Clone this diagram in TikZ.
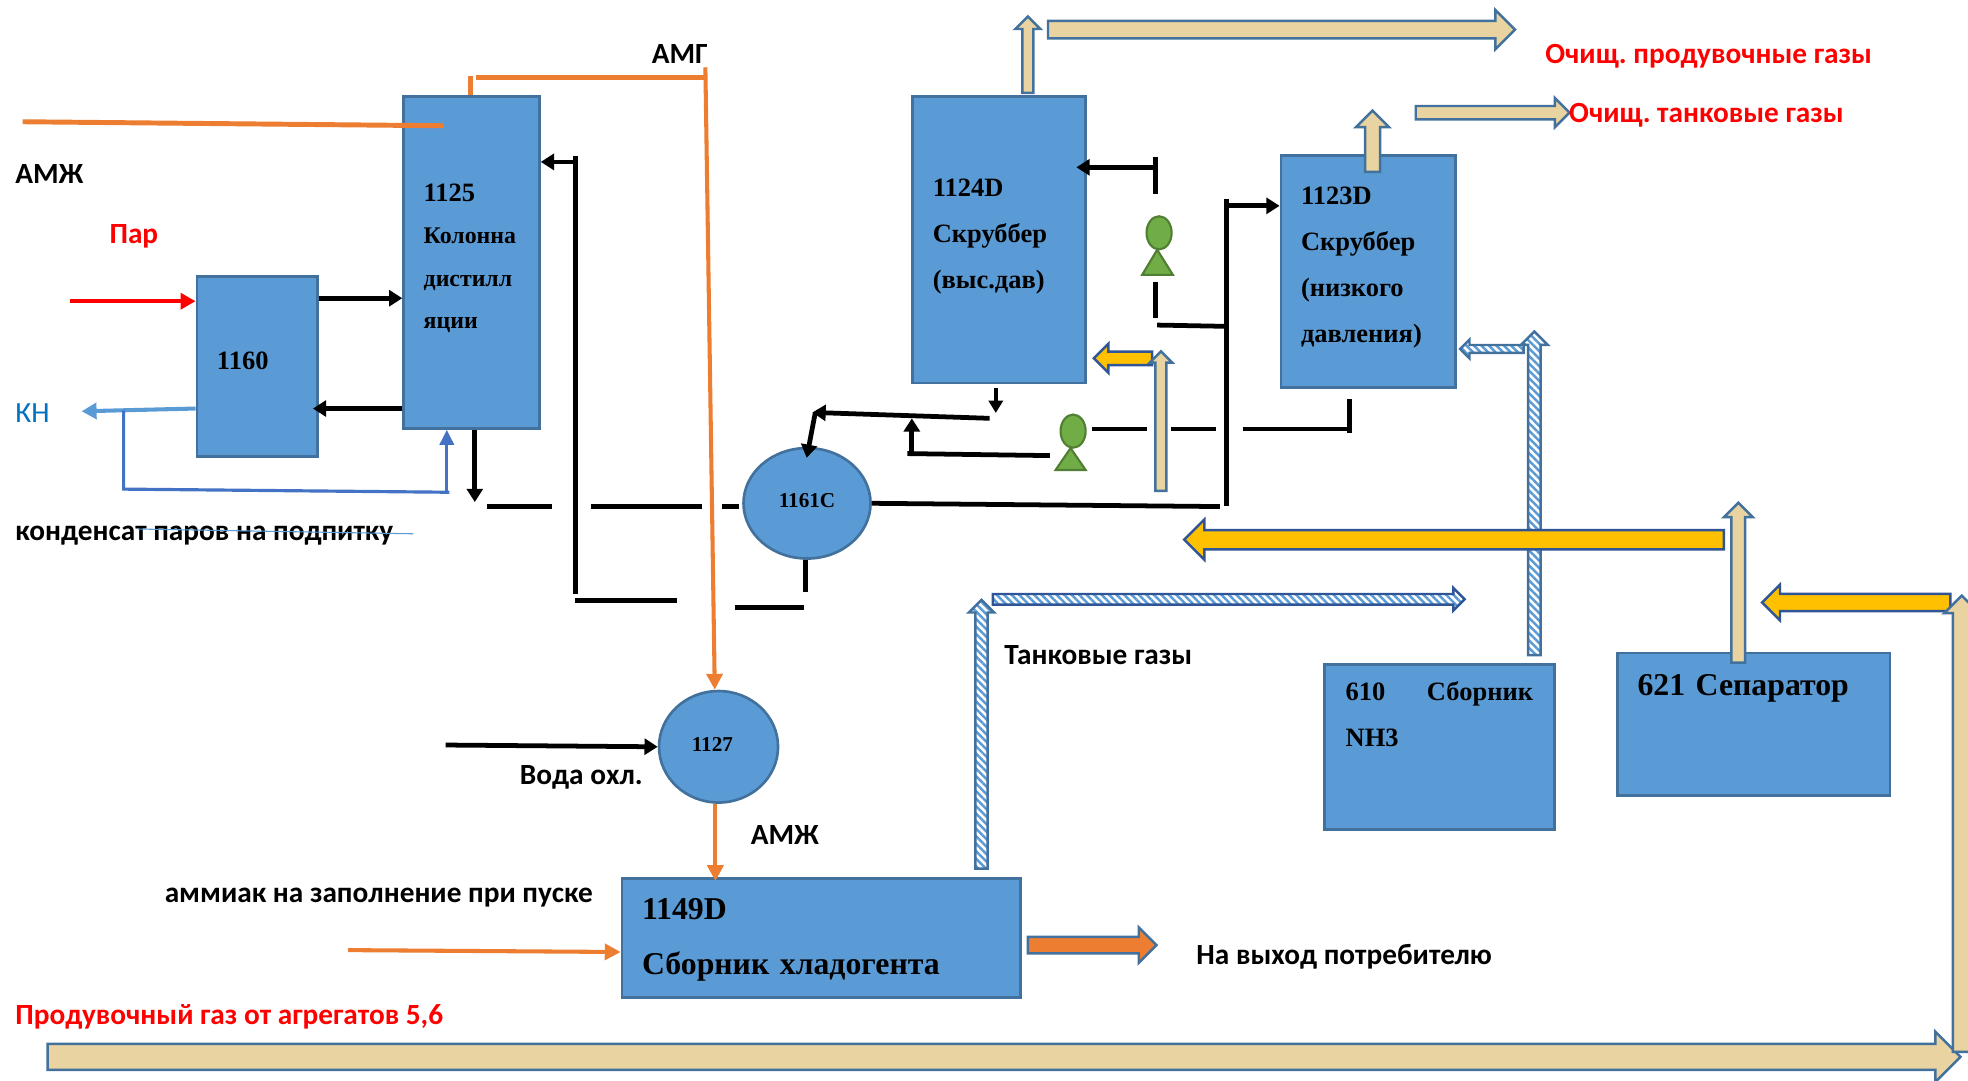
\documentclass[tikz,border=0pt]{standalone}
\usepackage{fontspec}
\setmainfont{Liberation Serif}
\newfontfamily\labelfont{Carlito}
\frenchspacing
\usetikzlibrary{shapes.geometric, shapes.arrows, arrows.meta, patterns.meta}
\definecolor{unitblue}{HTML}{5B9BD5}
\definecolor{unitline}{HTML}{41719C}
\definecolor{pumpgreen}{HTML}{70AD47}
\definecolor{pumpline}{HTML}{507E32}
\definecolor{gasbeige}{HTML}{E9D3A0}
\definecolor{ammonia}{HTML}{ED7D31}
\definecolor{liquidgold}{HTML}{FFC000}
\definecolor{navyline}{HTML}{2F5597}
\definecolor{returnblue}{HTML}{4472C4}
\definecolor{inkblue}{HTML}{0070C0}

\begin{document}
\begin{tikzpicture}[
  x=0.025cm, y=-0.025cm,
  unit/.style={draw=unitline, fill=unitblue, line width=1.5pt, inner ysep=0pt, align=left,
               font=\fontsize{15}{26}\selectfont\bfseries},
  vessel/.style={unit, ellipse, inner sep=0pt, align=center, font=\fontsize{12}{14}\selectfont\bfseries},
  pump/.style={draw=pumpline, fill=pumpgreen, line width=1.2pt},
  tag/.style={anchor=west, inner sep=0pt, font=\labelfont\fontsize{16.6}{19}\selectfont\bfseries},
  pipe/.style={line width=2.7pt, black},
  feed/.style={pipe, -{Triangle[length=7.5pt,width=9pt]}},
  amm/.style={line width=2.3pt, ammonia},
  ammfeed/.style={amm, -{Triangle[length=9pt,width=9pt]}},
  flow/.style n args={3}{single arrow, draw=unitline, line width=1.4pt, inner xsep=0pt,
               inner ysep=(#3-2)*0.0125cm, anchor=tail, single arrow tip angle=90,
               minimum height=(#1-1.5)*0.025cm, minimum width=(#2-2)*0.025cm,
               single arrow head extend=(#2-#3)/2*0.025cm},
  gas/.style={fill=gasbeige},
  liquid/.style={fill=liquidgold, draw=navyline},
  tank/.style={preaction={fill=white}, pattern={Lines[angle=-45,distance=3pt,line width=1.4pt]}, pattern color=unitblue}
]
  \useasboundingbox (0,0) rectangle (1568,861);

  % Units
  \node[unit, minimum height=6.61cm, inner xsep=0.4cm, text width=1.905cm,
        font=\fontsize{13.5}{24}\selectfont\bfseries] (c1125) at (375.7,209.2)
        {{\fontsize{15}{24}\selectfont 1125}\\Колонна\\дистилл\\яции\\[-17pt]\mbox{}};
  \node[unit, minimum height=3.585cm, inner xsep=0.4cm, text width=1.605cm] (c1160) at (205,292) {1160\\[-19pt]\mbox{}};
  \node[unit, minimum height=5.7cm, inner xsep=0.4cm, text width=2.64cm] (d1124) at (796,191)
        {1124D\\Скруббер\\(выс.дав)\\[-19pt]\mbox{}};
  \node[unit, minimum height=4.615cm, inner xsep=0.4cm, text width=2.67cm] (d1123) at (1090,216.3)
        {1123D\\Скруббер\\(низкого\\давления)\\[-18pt]\mbox{}};
  \node[unit, minimum height=2.37cm, inner xsep=0.4cm, text width=7.13cm,
        font=\fontsize{18}{31}\selectfont\bfseries] (d1149) at (654.2,747.5) {1149D\\Сборник хладогента\\[-29pt]\mbox{}};
  \node[unit, minimum height=3.285cm, inner xsep=0.425cm, text width=3.73cm] (c610) at (1146.8,595.3)
        {610\hfill Сборник\\NH3\\[12pt]\mbox{}};
  \node[unit, minimum height=2.84cm, inner xsep=0.4cm, text width=4.63cm,
        font=\fontsize{18}{20}\selectfont\bfseries] (s621) at (1397.3,577) {621 Сепаратор\\[25pt]\mbox{}};
  \node[vessel, minimum width=2.53cm, minimum height=2.2cm] (e1161) at (643,401) {\raisebox{3pt}{1161C}};
  \node[vessel, minimum width=2.37cm, minimum height=2.22cm] (e1127) at (572.5,595) {\raisebox{2.5pt}{1127}\hspace{7pt}};

  % Pumps
  \node[pump, ellipse, inner sep=0pt, minimum width=0.5cm, minimum height=0.66cm] (p1) at (923.5,185.5) {};
  \node[pump, ellipse, inner sep=0pt, minimum width=0.5cm, minimum height=0.66cm] (p2) at (855,343.5) {};
  \draw[pump] (910,219) -- (922,199) -- (934.5,219) -- cycle;
  \draw[pump] (841,374.5) -- (853,357) -- (865,374.5) -- cycle;

  % Tank gas lines
  \node[flow={259.3}{21}{10}, tank, rotate=90] (tk1) at (1222.5,523) {};
  \node[flow={52.2}{15}{6.3}, tank, rotate=180] (tk2) at (1215,278) {};
  \node[flow={377.4}{18}{8.5}, tank, draw=navyline] (tk3) at (790,477.5) {};
  \node[flow={215.5}{20}{9.8}, tank, rotate=90] (tk4) at (782,693) {};

  % Liquid lines
  \node[flow={431.5}{32}{15.4}, liquid, rotate=180] (lq1) at (1374.5,430) {};
  \node[flow={151.5}{28.4}{13.8}, liquid, rotate=180] (lq2) at (1555,480) {};
  \node[flow={48}{23.3}{10.7}, liquid, rotate=180] (lq3) at (919,285.5) {};
  \node[flow={104}{28.4}{13.3}, fill=ammonia] (lq4) at (818,753) {};

  % Purge gas lines
  \node[flow={62.4}{20}{8.8}, gas, rotate=90] (pg1) at (819,75) {};
  \node[flow={373.6}{31.5}{14}, gas] (pg2) at (834,23.6) {};
  \node[flow={50.4}{26.5}{12}, gas, rotate=90] (pg3) at (1093.6,138) {};
  \node[flow={124}{23.3}{10.7}, gas] (pg4) at (1127,89.8) {};
  \node[flow={112.5}{17.7}{8.8}, gas, rotate=90] (pg5) at (925,392) {};
  \node[flow={129}{23}{11}, gas, rotate=90] (pg6) at (1385,529) {};
  \node[flow={1525.5}{40}{20.7}, gas] (pg7) at (37,842) {};
  \node[flow={365}{28}{14}, gas, rotate=90] (pg8) at (1563,839) {};

  % Connector ends
  \coordinate (amzin) at (18,97);
  \coordinate (amzend) at (353.6,100.2);
  \coordinate (amgtop) at (562,53.6);
  \coordinate (amgjoin) at (562,62);
  \coordinate (amgleft) at (379,62);
  \coordinate (amgdrop) at (375,60.5);
  \coordinate (fillin) at (277.4,757);
  \coordinate (parin) at (56,240);
  \coordinate (knout) at (65,327.7);
  \coordinate (tee) at (98.5,327);
  \coordinate (teelow) at (98.5,389.7);
  \coordinate (teeright) at (358,392.2);
  \coordinate (upin) at (356,392);
  \coordinate (lv1) at (0,237.6);
  \coordinate (lv2) at (0,325.5);
  \coordinate (lv3) at (0,129);
  \coordinate (drop) at (378.3,400);
  \coordinate (bus) at (388,403.6);
  \coordinate (riser) at (458.4,124.5);
  \coordinate (riserlow) at (458.4,473);
  \coordinate (riserend) at (539.3,478.6);
  \coordinate (botleft) at (585.5,484.2);
  \coordinate (botright) at (640.4,484.2);
  \coordinate (botup) at (641.8,471.6);
  \coordinate (mainend) at (972,403.6);
  \coordinate (maintop) at (977.5,158.5);
  \coordinate (mainlow) at (977.5,403.3);
  \coordinate (mainbr) at (977.5,164);
  \coordinate (sidetop) at (920.6,125.4);
  \coordinate (sidelow) at (920.6,154.4);
  \coordinate (sidearm) at (920.6,133.3);
  \coordinate (sideb) at (920.6,224.6);
  \coordinate (sidec) at (920.6,253.6);
  \coordinate (armleft) at (922,259);
  \coordinate (armright) at (976,260);
  \coordinate (outa) at (793.4,309.4);
  \coordinate (outb) at (793.4,329);
  \coordinate (reta) at (788.5,333.3);
  \coordinate (retb) at (647.3,328.6);
  \coordinate (retc) at (649.6,328.6);
  \coordinate (loopa) at (836.5,363);
  \coordinate (loopb) at (723,361.4);
  \coordinate (loopc) at (726.5,360.7);
  \coordinate (loopd) at (726.5,333.3);
  \coordinate (pumpline) at (870,341.8);
  \coordinate (pumpend) at (1075.4,341.8);
  \coordinate (stub) at (1075.4,317.6);
  \coordinate (stublow) at (1075.4,345);
  \coordinate (waterin) at (355,593.6);
  \coordinate (strikea) at (110,421.5);
  \coordinate (strikeb) at (329.4,425.3);

  % Black process lines
  \draw[feed] (c1160.east |- lv1) -- (c1125.west |- lv1);
  \draw[feed] (c1125.west |- lv2) -- (249.3,325.5);
  \draw[feed] (c1125.south -| drop) -- (drop);
  \draw[pipe, dash pattern=on 37pt off 22pt on 62.6pt off 11.7pt on 9.6pt] (bus) -- (e1161.west |- bus);
  \draw[pipe] (riser) -- (riserlow);
  \draw[feed] (456.5,129) -- (c1125.east |- lv3);
  \draw[pipe] (riserlow |- riserend) -- (riserend);
  \draw[pipe] (botleft) -- (botright);
  \draw[pipe] (e1161.south -| botup) -- (botup);
  \draw[pipe] (e1161.east) -- (mainend);
  \draw[pipe] (maintop) -- (mainlow);
  \draw[feed] (mainbr) -- (d1123.west |- mainbr);
  \draw[pipe] (sidetop) -- (sidelow);
  \draw[feed] (sidearm) -- (857.6,133.3);
  \draw[pipe] (sideb) -- (sidec);
  \draw[pipe] (armleft) -- (armright);
  \draw[pipe, -{Triangle[length=7pt,width=8pt]}, line width=2pt] (outa) -- (outb);
  \draw[feed] (reta) -- (retb);
  \draw[feed] (retc) -- (642.7,364.8);
  \draw[pipe] (loopa) -- (loopb);
  \draw[feed] (loopc) -- (loopd);
  \draw[pipe, dash pattern=on 31.3pt off 13.5pt on 25.6pt off 15pt on 60.5pt] (pumpline) -- (pumpend);
  \draw[pipe] (stub) -- (stublow);
  \draw[feed] (waterin) -- (e1127.west);

  % Ammonia lines
  \draw[amm, line width=2.8pt] (amzin) -- (amzend);
  \draw[amm, line width=2.8pt] (amgdrop) -- (c1125.north -| amgdrop);
  \draw[amm, line width=2.8pt] (amgleft) -- (amgjoin);
  \draw[ammfeed] (amgtop) -- (e1127.north -| 569.5,0);
  \draw[ammfeed] (e1127.south -| 570,0) -- (570,702);
  \draw[ammfeed] (fillin) -- (d1149.west |- 0,758.5);

  % Steam and condensate
  \draw[line width=2.3pt, red, -{Triangle[length=8.5pt,width=9pt]}] (parin) -- (c1160.west |- parin);
  \draw[line width=2.3pt, unitblue, -{Triangle[length=8.5pt,width=9pt]}] (c1160.west |- lv2) -- (knout);
  \draw[line width=1.8pt, returnblue] (tee) -- (teelow) -- (teeright);
  \draw[line width=1.8pt, returnblue, -{Triangle[length=8.5pt,width=8pt]}] (upin) -- (c1125.south -| upin);

  % Labels
  \node[tag] (lamg) at (519,43) {АМГ};
  \node[tag] (lamz) at (12,139) {АМЖ};
  \node[tag, text=red] (lpar) at (87,188) {Пар};
  \node[tag, text=inkblue, font=\labelfont\fontsize{16.6}{19}\selectfont] (lkn) at (12,329) {КН};
  \node[tag] (lcond) at (12,427) {конденсат паров на подпитку};
  \node[tag] (lwater) at (414,619) {Вода охл.};
  \node[tag] (lamz2) at (598,665) {АМЖ};
  \node[tag] (lfill) at (131,715) {аммиак на заполнение при пуске};
  \node[tag, text=red] (lpurge) at (12,810) {Продувочный газ от агрегатов 5,6};
  \node[tag] (lout) at (953,762) {На выход потребителю};
  \node[tag] (ltank) at (800,522) {Танковые газы};
  \node[tag, text=red] (lclean1) at (1231,45) {Очищ. продувочные газы};
  \node[tag, text=red] (lclean2) at (1250,92) {Очищ. танковые газы};
  \draw[line width=0.6pt, unitblue] (strikea) -- (strikeb);
\end{tikzpicture}
\end{document}
